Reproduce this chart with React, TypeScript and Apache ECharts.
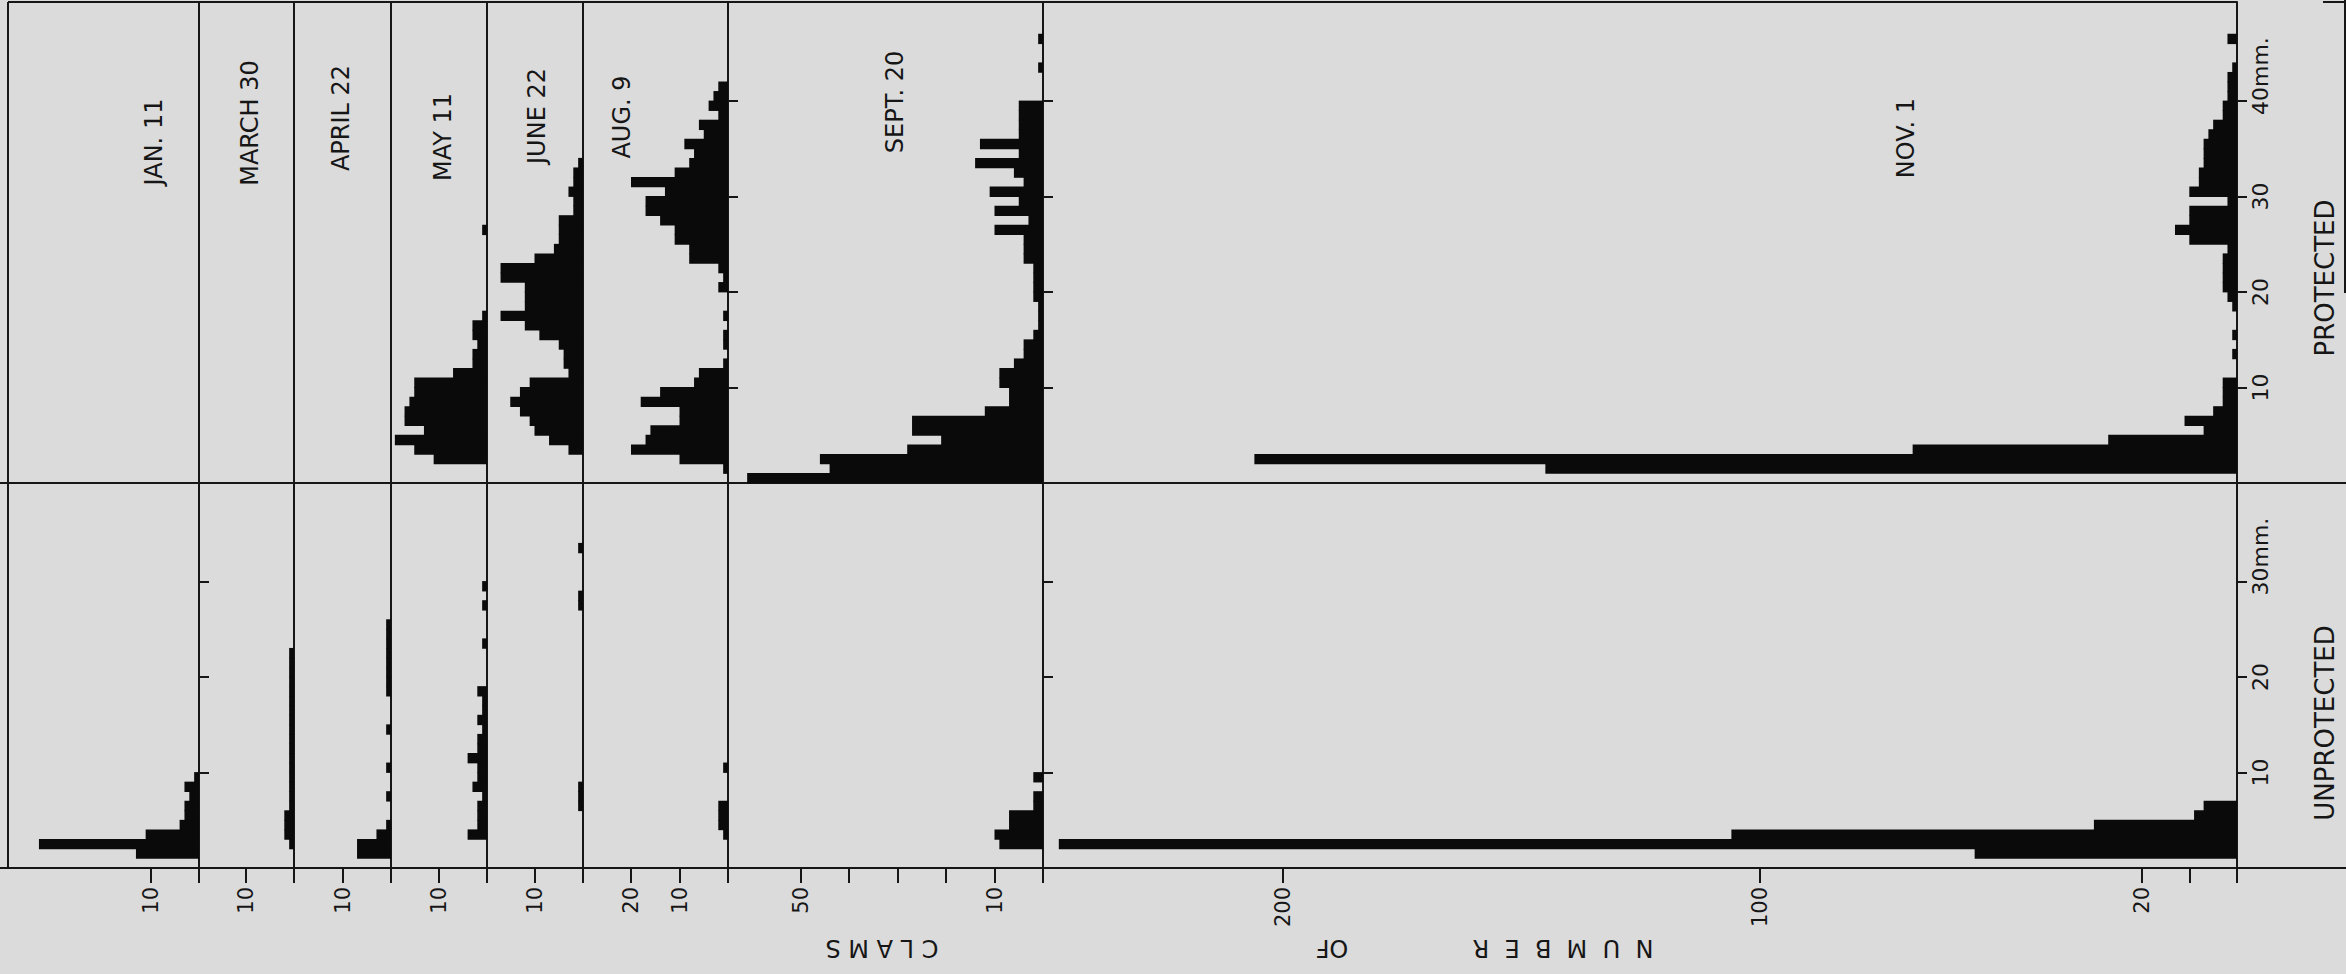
import React, { useEffect, useRef } from 'react';
import * as echarts from 'echarts';

// ---------------- DATA ----------------
// Sampling dates (one panel each)
const dates = ['JAN. 11', 'MARCH 30', 'APRIL 22', 'MAY 11', 'JUNE 22', 'AUG. 9', 'SEPT. 20', 'NOV. 1'];
const halfNames = ['PROTECTED', 'UNPROTECTED'];

// Number of clams per 1-mm size class; index k = class [k, k+1) mm
const janProtected: number[] = [];
const marProtected: number[] = [];
const aprProtected: number[] = [];
const mayProtected = [0, 0, 11, 15, 19, 13, 17, 17, 16, 15, 15, 7, 3, 3, 2, 3, 3, 1, 0, 0, 0, 0, 0, 0, 0, 0, 1];
const junProtected = [0, 0, 0, 3, 7, 10, 11, 13, 15, 13, 11, 3, 4, 4, 5, 9, 12, 17, 12, 12, 12, 17, 17, 10, 6, 5, 5, 5, 2, 2, 3, 2, 2, 1];
const augProtected = [0, 1, 10, 20, 17, 16, 10, 10, 18, 14, 7, 6, 1, 0, 1, 1, 0, 1, 0, 0, 2, 1, 2, 8, 8, 11, 11, 14, 17, 17, 13, 20, 11, 8, 7, 9, 5, 6, 2, 4, 3, 2];
const sepProtected = [61, 44, 46, 28, 21, 27, 27, 12, 7, 7, 9, 9, 6, 4, 4, 2, 1, 1, 1, 2, 2, 2, 2, 4, 4, 4, 10, 3, 10, 5, 11, 4, 6, 14, 5, 13, 5, 5, 5, 5, 0, 0, 0, 1, 0, 0, 1];
const novProtected = [0, 145, 206, 68, 27, 7, 11, 5, 3, 3, 3, 0, 0, 1, 0, 1, 0, 0, 1, 2, 3, 3, 3, 3, 2, 10, 13, 10, 10, 2, 10, 8, 8, 7, 7, 7, 6, 5, 3, 3, 2, 2, 2, 1, 0, 0, 2];

const janUnprotected = [0, 13, 33, 11, 4, 3, 3, 2, 3, 1];
const marUnprotected = [0, 0, 1, 2, 2, 2, 1, 1, 1, 1, 1, 1, 1, 1, 1, 1, 1, 1, 1, 1, 1, 1, 1];
const aprUnprotected = [0, 7, 7, 3, 1, 0, 0, 1, 0, 0, 1, 0, 0, 0, 1, 0, 0, 0, 1, 1, 1, 1, 1, 1, 1, 1];
const mayUnprotected = [0, 0, 0, 4, 2, 2, 2, 1, 3, 2, 2, 4, 2, 2, 1, 2, 1, 1, 2, 0, 0, 0, 0, 1, 0, 0, 0, 1, 0, 1];
const junUnprotected = [0, 0, 0, 0, 0, 0, 1, 1, 1, 0, 0, 0, 0, 0, 0, 0, 0, 0, 0, 0, 0, 0, 0, 0, 0, 0, 0, 1, 1, 0, 0, 0, 0, 1];
const augUnprotected = [0, 0, 0, 1, 2, 2, 2, 0, 0, 0, 1];
const sepUnprotected = [0, 0, 9, 10, 7, 7, 2, 2, 0, 2];
const novUnprotected = [0, 55, 247, 106, 30, 9, 7];

const protectedCounts = [janProtected, marProtected, aprProtected, mayProtected, junProtected, augProtected, sepProtected, novProtected];
const unprotectedCounts = [janUnprotected, marUnprotected, aprUnprotected, mayUnprotected, junUnprotected, augUnprotected, sepUnprotected, novUnprotected];

// Count-axis ticks and labels per panel
const countTicks = [[0, 10], [0, 10], [0, 10], [0, 10], [0, 10], [0, 10, 20], [0, 10, 20, 30, 40, 50], [0, 10, 20, 100, 200]];
const countLabels = [[10], [10], [10], [10], [10], [10, 20], [10, 50], [20, 100, 200]];
// Size-axis ticks (mm)
const protectedSizeTicks = [10, 20, 30, 40];
const unprotectedSizeTicks = [10, 20, 30];
const protectedTickPanels = [5, 6, 7];
const unprotectedTickPanels = [0, 6, 7];
const titleWords = ['N  U  M  B  E  R', 'OF', 'C L A M S'];

// ---------------- LAYOUT ----------------
const W = 2346;
const H = 974;
const LEFT = 8;
const BASELINES = [199, 294, 391, 487, 583, 728, 1043, 2237];
const PX_PER_COUNT = [4.85, 4.85, 4.85, 4.85, 4.85, 4.85, 4.85, 4.77];
const TOP = 2;
const MID = 483;
const BOT = 868;
const PX_PER_MM = 9.55;
const BG = '#dbdbdb';
const INK = '#161616';
const BAR = '#0a0a0a';
const FONT = 'DejaVu Sans';

const datePos: [number, number][] = [[154, 142], [250, 123], [341, 118], [443, 137], [537, 116], [622, 117], [895, 102], [1906, 138]];
const titlePos: [number, number][] = [[1563, 948], [1332, 948], [882, 948]];

function binData(counts: number[]) {
  const out: number[][] = [];
  counts.forEach((c, k) => {
    if (c > 0) out.push([k, k + 1, c]);
  });
  return out;
}

const renderItem = (_params: any, api: any) => {
  const lo = api.value(0);
  const hi = api.value(1);
  const c = api.value(2);
  const a = api.coord([0, lo]);
  const b = api.coord([c, hi]);
  const x = Math.min(a[0], b[0]);
  const y = Math.min(a[1], b[1]);
  return {
    type: 'rect',
    shape: { x, y: y - 0.4, width: Math.abs(a[0] - b[0]), height: Math.abs(a[1] - b[1]) + 0.8 },
    style: { fill: BAR },
  };
};

function buildOption() {
  const grid: any[] = [];
  const xAxis: any[] = [];
  const yAxis: any[] = [];
  const series: any[] = [];
  const lineStyle = { color: INK, width: 2 };

  for (let half = 0; half < 2; half++) {
    for (let i = 0; i < BASELINES.length; i++) {
      const left = i === 0 ? LEFT : BASELINES[i - 1];
      const width = BASELINES[i] - left;
      const top = half === 0 ? TOP : MID;
      const height = half === 0 ? MID - TOP : BOT - MID;
      const g = grid.length;
      grid.push({ left, top, width, height, containLabel: false, outerBoundsMode: 'none' });

      const isBottom = half === 1;
      xAxis.push({
        gridIndex: g,
        type: 'value',
        inverse: true,
        min: 0,
        max: width / PX_PER_COUNT[i],
        position: 'bottom',
        show: isBottom,
        axisLine: { show: isBottom, onZero: false, lineStyle },
        axisTick: { show: isBottom, length: 15, customValues: countTicks[i], lineStyle },
        axisLabel: {
          show: isBottom,
          customValues: countLabels[i],
          rotate: 90,
          margin: 19,
          fontSize: 21,
          fontFamily: FONT,
          color: INK,
        },
        splitLine: { show: false },
      });

      const tickPanels = half === 0 ? protectedTickPanels : unprotectedTickPanels;
      const sizeTicks = half === 0 ? protectedSizeTicks : unprotectedSizeTicks;
      const hasTicks = tickPanels.includes(i);
      const hasLabels = i === BASELINES.length - 1;
      const lastTick = sizeTicks[sizeTicks.length - 1];
      yAxis.push({
        gridIndex: g,
        type: 'value',
        min: 0,
        max: height / PX_PER_MM,
        position: 'right',
        axisLine: { show: true, onZero: false, lineStyle },
        axisTick: { show: hasTicks, inside: false, length: 10, customValues: sizeTicks, lineStyle },
        axisLabel: {
          show: hasLabels,
          customValues: sizeTicks,
          rotate: 90,
          margin: 12,
          fontSize: 22,
          fontFamily: FONT,
          color: INK,
          formatter: (v: number) => (v === lastTick ? '{g|mm.}' + v + 'mm.' : String(v)),
          rich: { g: { color: 'rgba(0,0,0,0)', fontSize: 22, fontFamily: FONT } },
        },
        splitLine: { show: false },
      });

      const counts = half === 0 ? protectedCounts[i] : unprotectedCounts[i];
      series.push({
        type: 'custom',
        name: dates[i] + ' ' + halfNames[half],
        xAxisIndex: g,
        yAxisIndex: g,
        clip: false,
        silent: true,
        encode: { x: 2, y: [0, 1] },
        renderItem,
        data: binData(counts),
      });
    }
  }

  const ln = (x1: number, y1: number, x2: number, y2: number) => ({
    type: 'line',
    silent: true,
    shape: { x1, y1, x2, y2 },
    style: { stroke: INK, lineWidth: 2 },
  });

  const graphic: any[] = [
    ln(LEFT, TOP, LEFT, BOT),
    ln(LEFT, TOP, BASELINES[BASELINES.length - 1], TOP),
    ln(0, MID, W, MID),
    ln(BASELINES[BASELINES.length - 1], BOT, W, BOT),
    ln(0, BOT, LEFT, BOT),
    ln(W - 1, 0, W - 1, 293),
    ln(2323, TOP, W, TOP),
  ];

  dates.forEach((d, i) => {
    graphic.push({
      type: 'text',
      x: datePos[i][0],
      y: datePos[i][1],
      rotation: Math.PI / 2,
      silent: true,
      style: { text: d, fill: INK, font: `24px "${FONT}"`, textAlign: 'center', textVerticalAlign: 'middle' },
    });
  });

  graphic.push({
    type: 'text', x: 2325, y: 278, rotation: Math.PI / 2, silent: true,
    style: { text: halfNames[0], fill: INK, font: `26px "${FONT}"`, textAlign: 'center', textVerticalAlign: 'middle' },
  });
  graphic.push({
    type: 'text', x: 2325, y: 723, rotation: Math.PI / 2, silent: true,
    style: { text: halfNames[1], fill: INK, font: `26px "${FONT}"`, textAlign: 'center', textVerticalAlign: 'middle' },
  });

  titleWords.forEach((t, i) => {
    graphic.push({
      type: 'text', x: titlePos[i][0], y: titlePos[i][1], rotation: Math.PI, silent: true,
      style: { text: t, fill: INK, font: `24px "${FONT}"`, textAlign: 'center', textVerticalAlign: 'middle' },
    });
  });

  return {
    animation: false,
    backgroundColor: BG,
    grid,
    xAxis,
    yAxis,
    series,
    graphic,
  };
}

export default function App() {
  const ref = useRef<HTMLDivElement>(null);
  useEffect(() => {
    if (!ref.current) return;
    const chart = echarts.init(ref.current, null, { renderer: 'svg', width: W, height: H });
    chart.setOption(buildOption() as any);
    return () => chart.dispose();
  }, []);
  return <div ref={ref} style={{ position: 'absolute', left: 0, top: 0, width: W, height: H }} />;
}
